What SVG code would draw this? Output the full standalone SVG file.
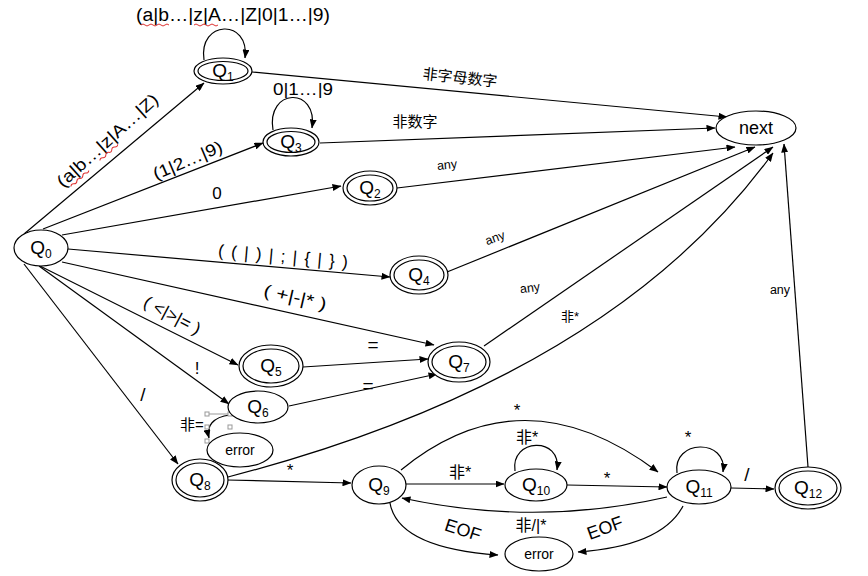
<svg xmlns="http://www.w3.org/2000/svg" width="868" height="576" viewBox="0 0 868 576">
<defs>
<marker id="ah" markerWidth="9" markerHeight="7" refX="8.5" refY="3.5" orient="auto" markerUnits="userSpaceOnUse">
<path d="M0,0 L9,3.5 L0,7 z" fill="#000"/>
</marker>
</defs>
<style>
text{font-family:"Liberation Sans","Noto Sans CJK SC",sans-serif;fill:#000}
.n ellipse{fill:#fff;stroke:#000;stroke-width:1.2}
.q{font-size:19px;text-anchor:middle}
.s{font-size:12px}
.c path{fill:none;stroke:#000;stroke-width:1.2;marker-end:url(#ah)}
.l{font-size:17px;text-anchor:middle}
.sm{font-size:12.5px;text-anchor:middle}
.wv{fill:none;stroke:#d33;stroke-width:1}
.hd{fill:#fff;stroke:#999;stroke-width:1}
</style>
<rect width="868" height="576" fill="#fff"/>
<g class="c" id="connectors">
<path d="M24,234 L204,83"/>
<path d="M43,229 L263,143"/>
<path d="M62,235 L341,186"/>
<path d="M68,249 L390,277"/>
<path d="M62,262 L434,345"/>
<path d="M40,266 L238,365"/>
<path d="M39,266 L229,404"/>
<path d="M24,264 L178,464"/>
<path d="M252,72 L727,117"/>
<path d="M320,143 L715,128"/>
<path d="M397,188 L735,147"/>
<path d="M447,272 L755,147"/>
<path d="M484,346 L773,147"/>
<path d="M228,477 Q610,378 773,153"/>
<path d="M808,467 L784,144"/>
<path d="M204,60 C198,20 250,18 245,58"/>
<path d="M273,130 C266,88 318,86 312,128"/>
<path d="M515,471 C510,438 562,436 557,470"/>
<path d="M677,473 C672,439 728,438 723,472"/>
<path d="M303,367 L428,359"/>
<path d="M289,406 L437,374"/>
<path d="M230,415 C213,417 206,426 209,438"/>
<path d="M227,480 L351,483"/>
<path d="M406,484 L504,484"/>
<path d="M567,485 L667,487"/>
<path d="M731,488 L774,489"/>
<path d="M401,470 Q523,370 658,472"/>
<path d="M667,497 Q535,527 402,498"/>
<path d="M390,503 Q398,548 498,555"/>
<path d="M683,506 Q662,546 578,552"/>
</g>
<g id="handles">
<line x1="207" y1="414" x2="230" y2="414" stroke="#999" stroke-width="1"/>
<rect class="hd" x="205" y="412" width="4" height="4"/>
<rect class="hd" x="228" y="412" width="4" height="4"/>
<rect class="hd" x="205" y="425" width="4" height="4"/>
<rect class="hd" x="228" y="425" width="4" height="4"/>
<rect class="hd" x="205" y="439" width="4" height="4"/>
<rect class="hd" x="228" y="439" width="4" height="4"/>
</g>
<g class="n">
<g id="Q0"><ellipse cx="41" cy="248" rx="27" ry="18"/><text class="q" x="41" y="254">Q<tspan class="s" dy="4">0</tspan></text></g>
<g id="Q1"><ellipse cx="223" cy="71" rx="29" ry="13"/><ellipse cx="223" cy="71" rx="25" ry="9.5"/><text class="q" x="223" y="77">Q<tspan class="s" dy="4">1</tspan></text></g>
<g id="Q3"><ellipse cx="291" cy="142" rx="28" ry="14"/><ellipse cx="291" cy="142" rx="24" ry="10.5"/><text class="q" x="291" y="148">Q<tspan class="s" dy="4">3</tspan></text></g>
<g id="Q2"><ellipse cx="370" cy="188" rx="27" ry="17"/><ellipse cx="370" cy="188" rx="23" ry="13"/><text class="q" x="370" y="194">Q<tspan class="s" dy="4">2</tspan></text></g>
<g id="Q4"><ellipse cx="419" cy="275" rx="29" ry="19"/><ellipse cx="419" cy="275" rx="25" ry="15"/><text class="q" x="419" y="281">Q<tspan class="s" dy="4">4</tspan></text></g>
<g id="next"><ellipse cx="756" cy="128" rx="40" ry="17"/><text class="q" x="756" y="134" style="font-size:18px">next</text></g>
<g id="Q5"><ellipse cx="271" cy="366" rx="32" ry="21"/><ellipse cx="271" cy="366" rx="28" ry="17"/><text class="q" x="271" y="372">Q<tspan class="s" dy="4">5</tspan></text></g>
<g id="Q7"><ellipse cx="459" cy="362" rx="31" ry="20"/><ellipse cx="459" cy="362" rx="27" ry="16"/><text class="q" x="459" y="368">Q<tspan class="s" dy="4">7</tspan></text></g>
<g id="Q6"><ellipse cx="258" cy="407" rx="30" ry="16"/><text class="q" x="258" y="413">Q<tspan class="s" dy="4">6</tspan></text></g>
<g id="error1"><ellipse cx="240" cy="450" rx="33" ry="17"/><text class="sm" x="240" y="455" style="font-size:14px">error</text></g>
<g id="Q8"><ellipse cx="200" cy="480" rx="28" ry="21"/><ellipse cx="200" cy="480" rx="24" ry="17"/><text class="q" x="200" y="486">Q<tspan class="s" dy="4">8</tspan></text></g>
<g id="Q9"><ellipse cx="379" cy="485" rx="27" ry="19"/><text class="q" x="379" y="491">Q<tspan class="s" dy="4">9</tspan></text></g>
<g id="Q10"><ellipse cx="536" cy="485" rx="31" ry="16"/><text class="q" x="536" y="491">Q<tspan class="s" dy="4">10</tspan></text></g>
<g id="Q11"><ellipse cx="699" cy="487" rx="32" ry="17"/><text class="q" x="699" y="493">Q<tspan class="s" dy="4">11</tspan></text></g>
<g id="Q12"><ellipse cx="808" cy="488" rx="33" ry="21"/><ellipse cx="808" cy="488" rx="29" ry="17"/><text class="q" x="808" y="494">Q<tspan class="s" dy="4">12</tspan></text></g>
<g id="error2"><ellipse cx="539" cy="554" rx="34" ry="17"/><text class="sm" x="539" y="559" style="font-size:14px">error</text></g>
</g>
<g id="labels">
<text class="l" x="233" y="21" style="font-size:18px" textLength="194" lengthAdjust="spacingAndGlyphs">(a|b…|z|A…|Z|0|1…|9)</text>
<path class="wv" d="M141,25 q2,-2 4,0 t4,0 t4,0 t4,0 t4,0 t4,0 t4,0 M194,25 q2,-2 4,0 t4,0 t4,0 t4,0 t4,0 t4,0"/>
<text class="l" x="303" y="95" textLength="60" lengthAdjust="spacingAndGlyphs">0|1…|9</text>
<g transform="translate(108,141) rotate(-42)">
<text class="l" x="0" y="5" textLength="130" lengthAdjust="spacingAndGlyphs">(a|b…|z|A…|Z)</text>
<path class="wv" d="M-58,9 q2,-2 4,0 t4,0 t4,0 t4,0 t4,0 t4,0 M-19,9 q2,-2 4,0 t4,0 t4,0 t4,0 t4,0 t4,0"/>
</g>
<text class="l" transform="translate(188,161) rotate(-23)" x="0" y="5" textLength="74" lengthAdjust="spacingAndGlyphs">(1|2…|9)</text>
<text class="l" x="217" y="199">0</text>
<text class="l" transform="translate(283,257) rotate(5)" x="0" y="5" textLength="130" lengthAdjust="spacing">( ( | ) | ; | { | } )</text>
<text class="l" transform="translate(295,298) rotate(13)" x="0" y="5" textLength="64" lengthAdjust="spacingAndGlyphs">( +|-|* )</text>
<text class="l" transform="translate(172,316) rotate(28)" x="0" y="5" textLength="62" lengthAdjust="spacingAndGlyphs">( &lt;|&gt;|= )</text>
<text class="l" x="197" y="374">!</text>
<text class="l" x="143" y="401" style="font-size:19px">/</text>
<text class="l" x="373" y="351" style="font-size:19px">=</text>
<text class="l" x="368" y="392" style="font-size:19px">=</text>
<text class="l" x="192" y="430" style="font-size:15px">非=</text>
<text class="l" x="290" y="476">*</text>
<text class="l" x="460" y="478" style="font-size:16px">非*</text>
<text class="l" x="527" y="443" style="font-size:16px">非*</text>
<text class="l" x="517" y="416">*</text>
<text class="l" x="607" y="484">*</text>
<text class="l" x="688" y="443">*</text>
<text class="l" x="747" y="481" style="font-size:19px">/</text>
<text class="l" x="531" y="531" style="font-size:16px">非/|*</text>
<text class="l" transform="translate(463,530) rotate(18)" x="0" y="6" style="font-size:18px">EOF</text>
<text class="l" transform="translate(605,528) rotate(-20)" x="0" y="6" style="font-size:18px">EOF</text>
<text class="sm" transform="translate(460,78) rotate(6)" x="0" y="5" style="font-size:15px">非字母数字</text>
<text class="sm" x="415" y="127" style="font-size:15px">非数字</text>
<text class="sm" transform="translate(447,165) rotate(-6)" x="0" y="4">any</text>
<text class="sm" transform="translate(495,238) rotate(-20)" x="0" y="4">any</text>
<text class="sm" transform="translate(530,288) rotate(-8)" x="0" y="4">any</text>
<text class="sm" x="570" y="321" style="font-size:13px">非*</text>
<text class="sm" x="780" y="294">any</text>
</g>
</svg>
